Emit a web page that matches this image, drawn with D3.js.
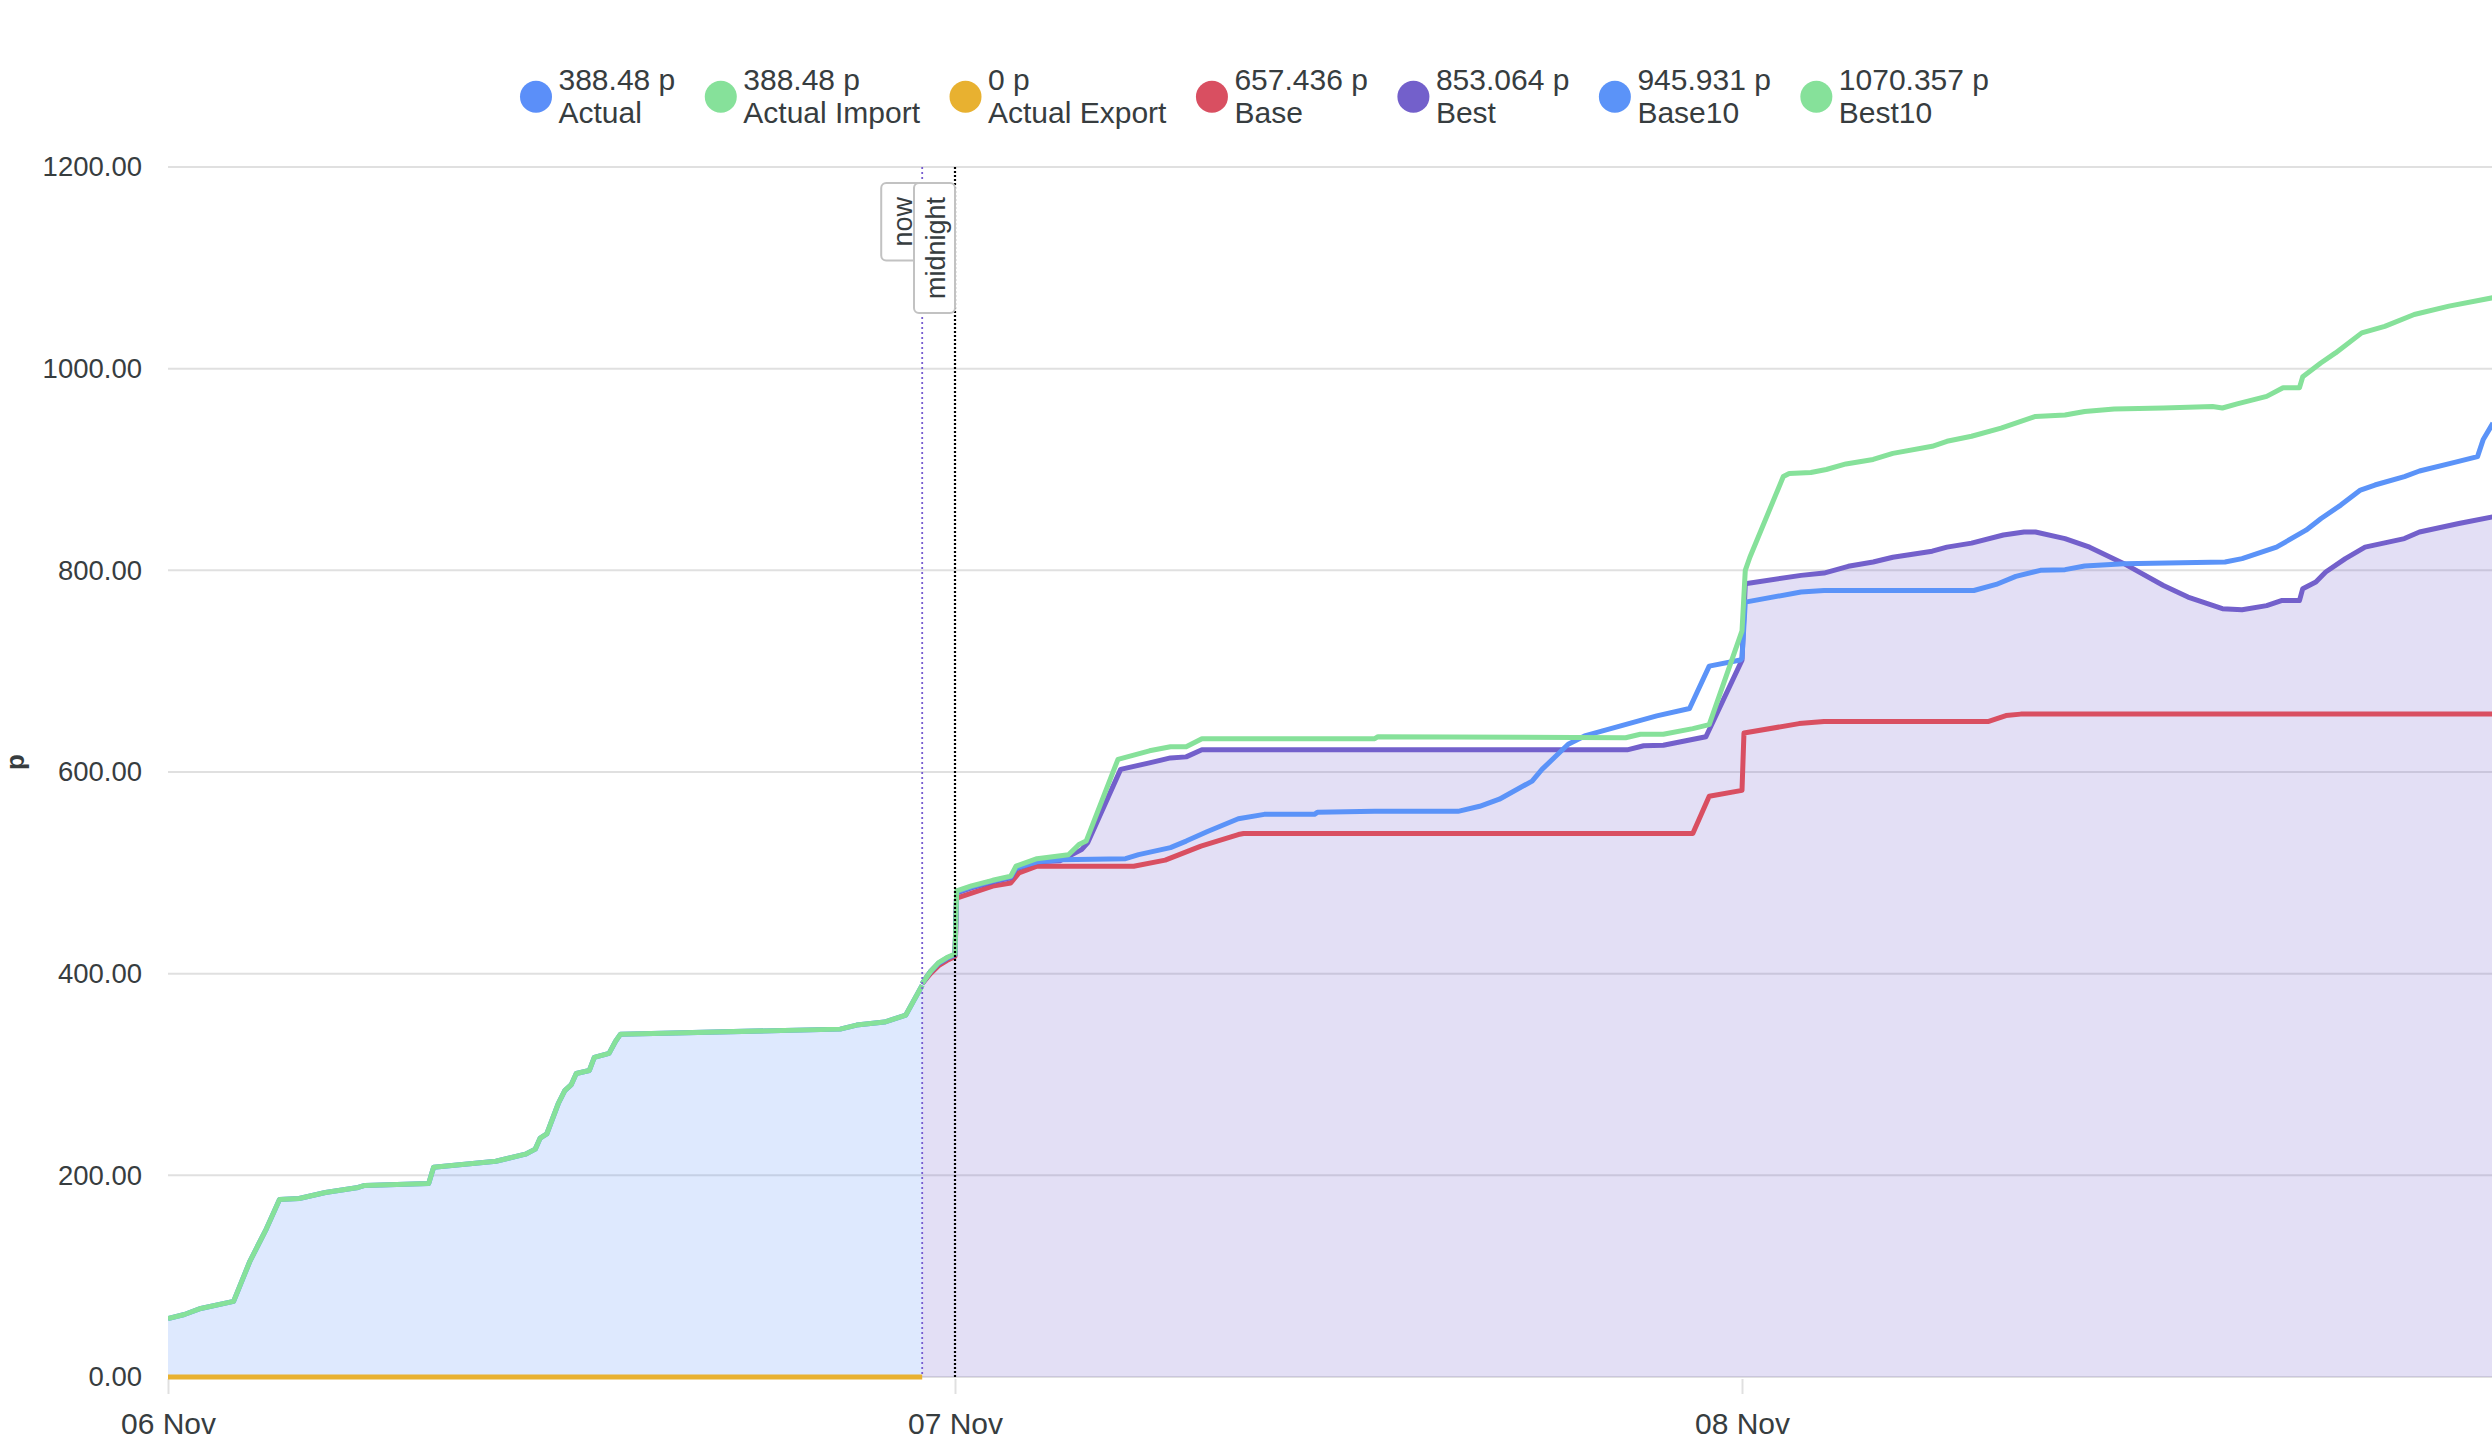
<!DOCTYPE html>
<html>
<head>
<meta charset="utf-8">
<script src="https://cdn.jsdelivr.net/npm/d3@7"></script>
<style>
  html, body { margin: 0; padding: 0; background: #fff; }
  svg { display: block; font-family: "Liberation Sans", Arial, Helvetica, sans-serif; }
</style>
</head>
<body>
<script>
// ---------- DATA (hours since 06 Nov 00:00, value in p) ----------
const xTickHours = [0, 24, 48];
const xTickLabels = ["06 Nov", "07 Nov", "08 Nov"];
const yTicks = [0, 200, 400, 600, 800, 1000, 1200];
const nowHour = 23.0;
const midnightHour = 24.0;

const actual = [[0,58],[0.5,62],[1,68],[2,75],[2.5,115],[3,147],[3.4,176],[4,177],[4.8,183],[5.8,188],[6,190],[7.95,192],[8.1,208],[10,214],[10.9,221],[11.2,226],[11.35,237],[11.55,241],[11.9,271],[12.1,284],[12.3,290],[12.45,301],[12.85,304],[13,317],[13.45,321],[13.65,333],[13.8,340],[20.5,345],[21,349],[21.85,352],[22.5,359],[23,388.48]];
const actualImport = actual.map(d => d.slice());
const actualExport = [[0,0],[23,0]];

const base = [[23,390],[23.1,394],[23.25,400],[23.5,408],[23.75,413],[24,417],[24.05,475],[25.15,486.8],[25.7,490],[25.95,500],[26.5,506.6],[29.45,506.6],[30.41,512.6],[31.5,526.5],[32.64,538],[32.8,539],[46.5,539],[47,576],[48,581.8],[48.06,638.7],[49.74,648],[50.5,650],[55.5,650],[56.05,656],[56.5,657.4],[70.9,657.4]];

const best = [[23,390],[23.1,395],[23.25,402],[23.5,410],[23.75,415],[24,418.5],[24.05,480],[24.5,485],[25.15,491],[25.7,495],[25.86,504],[26.5,511],[27.2,512],[27.86,523],[28.05,530],[29.05,602.6],[29.93,609],[30.57,614],[31.05,615],[31.53,622],[44.5,622],[45,626],[45.6,626.5],[46.9,635],[48,711],[48.1,786.7],[49.8,795],[50.5,797.3],[51.24,804],[52,808.3],[52.6,813],[53.8,819],[54.25,823],[55,827],[55.97,835],[56.6,838],[56.95,838],[57.85,831.5],[58.6,823],[59.65,806.6],[60.85,785],[61.6,773.5],[62.65,762],[63.25,761],[64,765],[64.45,770],[65,770],[65.1,781.8],[65.5,788.4],[65.8,798.3],[66.4,811.6],[67,823],[68.2,831.5],[68.66,838],[69.86,846.4],[70.9,853.1]];

const base10 = [[23,390],[23.1,395],[23.25,402],[23.5,410.5],[23.75,415.5],[24,419],[24.05,481],[24.5,486],[25.15,492],[25.7,496],[25.86,505],[26.5,511],[27.2,513],[29.2,514],[29.6,518],[30.57,525],[31.05,531.5],[31.7,541],[32.64,553.6],[33.43,558],[34.96,558],[35.05,560],[36.8,561],[39.34,561],[40,566],[40.6,573],[41.6,591],[41.9,602.6],[42.7,627.5],[43.2,635.8],[44.3,645.7],[45.4,655.6],[46.4,663],[47,705],[47.95,711],[48,713],[48.1,768.5],[49.8,778.5],[50.5,780],[55.07,780],[55.75,786],[56.35,794],[57.1,800],[57.85,800.7],[58.45,804.3],[59.65,806.6],[62.73,808.3],[63.25,811.6],[64.3,823],[65.2,839.8],[65.66,851.4],[66.26,864.7],[66.86,879.6],[67.3,884.6],[68.2,892.9],[68.66,898.5],[69.7,906.8],[70.43,912.8],[70.6,929.4],[70.9,946]];

const best10 = [[23,390],[23.1,395],[23.25,402],[23.5,411],[23.75,416],[24,419.5],[24.05,482],[24.5,487],[25.15,492.6],[25.7,496.7],[25.86,506.6],[26.5,514],[27.46,518],[27.78,528],[28,531.5],[28.97,612.6],[29.93,621],[30.57,625],[31.05,625],[31.53,633],[36.8,633],[36.9,635],[44.45,634],[44.9,637.4],[45.6,637.4],[46.5,643],[47,647],[48,740],[48.1,800],[48.24,813],[49.26,893],[49.44,896],[50.1,897],[50.57,900],[51.17,905.5],[52,910],[52.6,916],[53.8,923],[54.25,928],[55,933],[55.9,941],[56.95,952.6],[57.85,954],[58.45,957.5],[59.35,960],[60.85,961],[62.35,962.5],[62.65,961],[63.1,965],[64,972.5],[64.5,981],[65,981],[65.1,992],[65.65,1005.6],[66.1,1015.6],[66.9,1035.5],[67.6,1042],[68.5,1053.7],[69.56,1062],[70.9,1070.4]];

const seriesNames = ["Actual", "Actual Import", "Actual Export", "Base", "Best", "Base10", "Best10"];
const seriesValueLabels = ["388.48 p", "388.48 p", "0 p", "657.436 p", "853.064 p", "945.931 p", "1070.357 p"];
const seriesColors = ["#5B8FF9", "#86E19A", "#E8B130", "#D94F61", "#7360CB", "#5B93F8", "#86E19A"];
const seriesData = [actual, actualImport, actualExport, base, best, base10, best10];
const areaSeries = ["Actual", "Best"];

// ---------- LAYOUT ----------
const W = 2492, H = 1440;
const plotLeft = 168, plotRight = 2492, plotTop = 167, plotBottom = 1377;
const hoursPerPx = 24 / 787;
const x = d3.scaleLinear().domain([0, (plotRight - plotLeft) * hoursPerPx]).range([plotLeft, plotRight]);
const y = d3.scaleLinear().domain([0, 1200]).range([plotBottom, plotTop]);
const textColor = "#373d3f";
const fontFam = '"Liberation Sans", Arial, sans-serif';

const svg = d3.select("body").append("svg").attr("width", W).attr("height", H);

svg.append("defs").append("clipPath").attr("id", "plotclip")
  .append("rect").attr("x", plotLeft).attr("y", plotTop - 10).attr("width", plotRight - plotLeft).attr("height", plotBottom - plotTop + 20);

// gridlines
svg.append("g").selectAll("line").data(yTicks).join("line")
  .attr("x1", plotLeft).attr("x2", plotRight)
  .attr("y1", d => y(d)).attr("y2", d => y(d))
  .attr("stroke", "#e0e0e0").attr("stroke-width", 2);

// y axis labels
const yAxis = d3.axisLeft(y).tickValues(yTicks).tickFormat(d3.format(".2f")).tickSize(0).tickPadding(26);
const gy = svg.append("g").attr("transform", `translate(${plotLeft},0)`).call(yAxis);
gy.select(".domain").remove();
gy.selectAll("text").attr("font-size", 27.5).attr("fill", textColor).attr("font-family", fontFam);

// y title
svg.append("text").attr("transform", `translate(24,762) rotate(-90)`)
  .attr("text-anchor", "middle").attr("font-size", 26).attr("font-weight", "bold")
  .attr("fill", textColor).text("p");

// x axis
const xAxis = d3.axisBottom(x).tickValues(xTickHours).tickFormat((d, i) => xTickLabels[i]).tickSize(15).tickPadding(19);
const gx = svg.append("g").attr("transform", `translate(0,${plotBottom + 2})`).call(xAxis);
gx.select(".domain").remove();
gx.selectAll("line").attr("stroke", "#e0e0e0").attr("stroke-width", 2);
gx.selectAll("text").attr("font-size", 30).attr("fill", textColor).attr("font-family", fontFam);

// areas + lines
const plot = svg.append("g").attr("clip-path", "url(#plotclip)");
const area = d3.area().x(d => x(d[0])).y0(y(0)).y1(d => y(d[1]));
const line = d3.line().x(d => x(d[0])).y(d => y(d[1]));

seriesNames.forEach((name, i) => {
  if (areaSeries.includes(name)) {
    plot.append("path").datum(seriesData[i]).attr("d", area)
      .attr("fill", seriesColors[i]).attr("fill-opacity", 0.2).attr("stroke", "none");
  }
});
seriesNames.forEach((name, i) => {
  plot.append("path").datum(seriesData[i]).attr("d", line)
    .attr("fill", "none").attr("stroke", seriesColors[i])
    .attr("stroke-width", 5).attr("stroke-linejoin", "round").attr("stroke-linecap", "butt");
});

// annotation lines
const annotations = [
  { hour: nowHour, label: "now", color: "#775DD0", dash: "2,3", width: 1.8 },
  { hour: midnightHour, label: "midnight", color: "#000", dash: "2,2", width: 2.2 }
];
const annG = svg.append("g");
annotations.forEach(a => {
  annG.append("line").attr("x1", x(a.hour)).attr("x2", x(a.hour))
    .attr("y1", plotTop).attr("y2", plotBottom)
    .attr("stroke", a.color).attr("stroke-width", a.width).attr("stroke-dasharray", a.dash);
});
annotations.forEach(a => {
  const g = annG.append("g");
  const t = g.append("text").attr("font-size", 27).attr("fill", textColor).text(a.label);
  const len = t.node().getComputedTextLength();
  const bw = 41, bh = len + 28, bx = x(a.hour) - bw, by = 183;
  g.insert("rect", "text").attr("x", bx).attr("y", by).attr("width", bw).attr("height", bh)
    .attr("rx", 5).attr("fill", "#fff").attr("stroke", "#c2c2c2").attr("stroke-width", 2);
  t.attr("text-anchor", "middle").attr("dominant-baseline", "central")
    .attr("transform", `translate(${bx + bw / 2 + 1},${by + bh / 2}) rotate(-90)`);
});

// legend
const legend = svg.append("g");
const legendGap = 29.5;
let cursor = 0;
seriesNames.forEach((name, i) => {
  const g = legend.append("g");
  g.append("circle").attr("cx", 16).attr("cy", 96.7).attr("r", 16).attr("fill", seriesColors[i]);
  const t1 = g.append("text").attr("x", 38.5).attr("y", 90).attr("font-size", 30).attr("fill", textColor).text(seriesValueLabels[i]);
  const t2 = g.append("text").attr("x", 38.5).attr("y", 123).attr("font-size", 30).attr("fill", textColor).text(name);
  const w = Math.max(t1.node().getComputedTextLength(), t2.node().getComputedTextLength());
  g.attr("transform", `translate(${cursor},0)`);
  cursor += 38.5 + w + legendGap;
});
legend.attr("transform", `translate(${520},0)`);
</script>
</body>
</html>
